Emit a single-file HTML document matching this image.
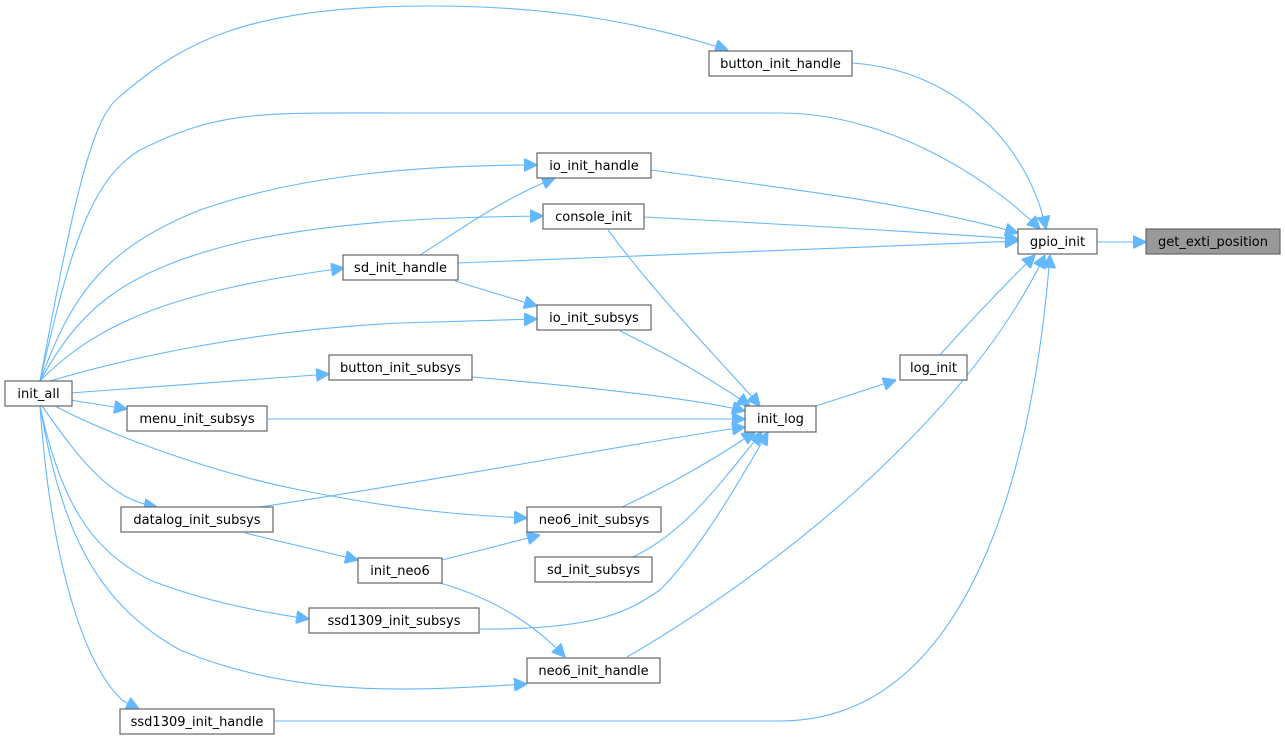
<!DOCTYPE html>
<html><head><meta charset="utf-8"><style>
html,body{margin:0;padding:0;background:#fff;}
svg{display:block;}
text{font-family:"DejaVu Sans","Liberation Sans",sans-serif;font-size:13px;fill:#000;}
.n{fill:#fff;stroke:#666;stroke-width:1.2;}
.e{fill:none;stroke:#63b8ff;stroke-width:1.1;}
</style></head><body>
<svg width="1285" height="740" viewBox="0 0 1285 740" xmlns="http://www.w3.org/2000/svg">
<defs><marker id="a" viewBox="0 0 10 10" refX="10" refY="5" markerWidth="13" markerHeight="13" markerUnits="userSpaceOnUse" orient="auto"><path d="M0,0L10,5L0,10z" fill="#63b8ff" stroke="#63b8ff"/></marker></defs>
<g class="e" marker-end="url(#a)">
<path d="M1097,242 L1146,242"/>
<path d="M852,63 C960,70 1030,150 1046,229"/>
<path d="M40,381 C70,250 90,180 140,150 C220,110 260,113 400,113 L780,113 C880,113 980,170 1040,229"/>
<path d="M40,381 C70,220 90,120 118,98 C180,45 240,6 430,6 C560,6 650,25 728,50"/>
<path d="M651,170 C800,190 920,205 1018,233"/>
<path d="M644,217 C800,225 920,232 1018,239"/>
<path d="M458,263 C700,255 900,245 1018,241"/>
<path d="M940,355 C980,310 1010,280 1035,255"/>
<path d="M627,657 C760,580 960,430 1045,255"/>
<path d="M274,721 L780,721 C1000,721 1040,380 1050,255"/>
<path d="M816,406 L896,380"/>
<path d="M608,230 C660,300 720,360 760,406"/>
<path d="M620,331 C680,360 720,385 750,406"/>
<path d="M472,377 C600,388 700,400 745,411"/>
<path d="M268,419 L745,419"/>
<path d="M260,507 C500,470 650,440 745,427"/>
<path d="M622,507 C680,480 720,455 755,432"/>
<path d="M633,557 C690,530 730,470 762,432"/>
<path d="M480,629 C600,630 630,610 660,590 C700,550 740,480 768,432"/>
<path d="M420,255 C460,230 500,200 555,178"/>
<path d="M455,281 L537,306"/>
<path d="M40,381 C70,300 100,250 200,210 C300,175 420,165 537,165"/>
<path d="M40,381 C80,310 120,270 250,240 C350,220 450,217 543,216"/>
<path d="M40,381 C100,320 180,290 344,268"/>
<path d="M50,381 C120,360 250,330 400,323 L537,319"/>
<path d="M70,393 L329,374"/>
<path d="M70,400 L127,409"/>
<path d="M42,406 C80,460 110,500 157,507"/>
<path d="M55,406 C100,430 200,470 300,490 C400,510 460,515 527,518"/>
<path d="M245,533 L358,560"/>
<path d="M442,560 L540,535"/>
<path d="M40,406 C60,500 90,550 150,580 C200,600 260,612 309,619"/>
<path d="M40,406 C60,520 90,600 180,650 C300,700 420,690 527,684"/>
<path d="M40,406 C50,550 80,660 122,700 C130,705 135,707 139,709"/>
<path d="M440,583 C500,600 540,630 565,657"/>
</g>
<g>
<rect class="n" x="709" y="51" width="143" height="25"/><text x="780.5" y="68" text-anchor="middle">button_init_handle</text>
<rect class="n" x="537" y="153" width="114" height="25"/><text x="594" y="170" text-anchor="middle">io_init_handle</text>
<rect class="n" x="543" y="204" width="101" height="25"/><text x="593.5" y="221" text-anchor="middle">console_init</text>
<rect class="n" x="343" y="255" width="115" height="25"/><text x="400.5" y="272" text-anchor="middle">sd_init_handle</text>
<rect class="n" x="1018" y="229" width="79" height="25"/><text x="1057.5" y="246" text-anchor="middle">gpio_init</text>
<rect x="1146" y="229" width="134" height="25" fill="#999" stroke="#666" stroke-width="1.2"/><text x="1213" y="246" text-anchor="middle">get_exti_position</text>
<rect class="n" x="537" y="305" width="114" height="25"/><text x="594" y="322" text-anchor="middle">io_init_subsys</text>
<rect class="n" x="900" y="355" width="67" height="25"/><text x="933.5" y="372" text-anchor="middle">log_init</text>
<rect class="n" x="329" y="355" width="143" height="25"/><text x="400.5" y="372" text-anchor="middle">button_init_subsys</text>
<rect class="n" x="5" y="381" width="67" height="25"/><text x="38.5" y="398" text-anchor="middle">init_all</text>
<rect class="n" x="127" y="406" width="140" height="25"/><text x="197" y="423" text-anchor="middle">menu_init_subsys</text>
<rect class="n" x="745" y="406" width="71" height="26"/><text x="780.5" y="423" text-anchor="middle">init_log</text>
<rect class="n" x="527" y="507" width="134" height="25"/><text x="594" y="524" text-anchor="middle">neo6_init_subsys</text>
<rect class="n" x="121" y="507" width="152" height="25"/><text x="197" y="524" text-anchor="middle">datalog_init_subsys</text>
<rect class="n" x="358" y="558" width="84" height="25"/><text x="400" y="575" text-anchor="middle">init_neo6</text>
<rect class="n" x="535" y="557" width="117" height="25"/><text x="593.5" y="574" text-anchor="middle">sd_init_subsys</text>
<rect class="n" x="309" y="608" width="170" height="25"/><text x="394" y="625" text-anchor="middle">ssd1309_init_subsys</text>
<rect class="n" x="527" y="658" width="133" height="25"/><text x="593.5" y="675" text-anchor="middle">neo6_init_handle</text>
<rect class="n" x="120" y="709" width="154" height="25"/><text x="197" y="726" text-anchor="middle">ssd1309_init_handle</text>
</g>
</svg>
</body></html>
